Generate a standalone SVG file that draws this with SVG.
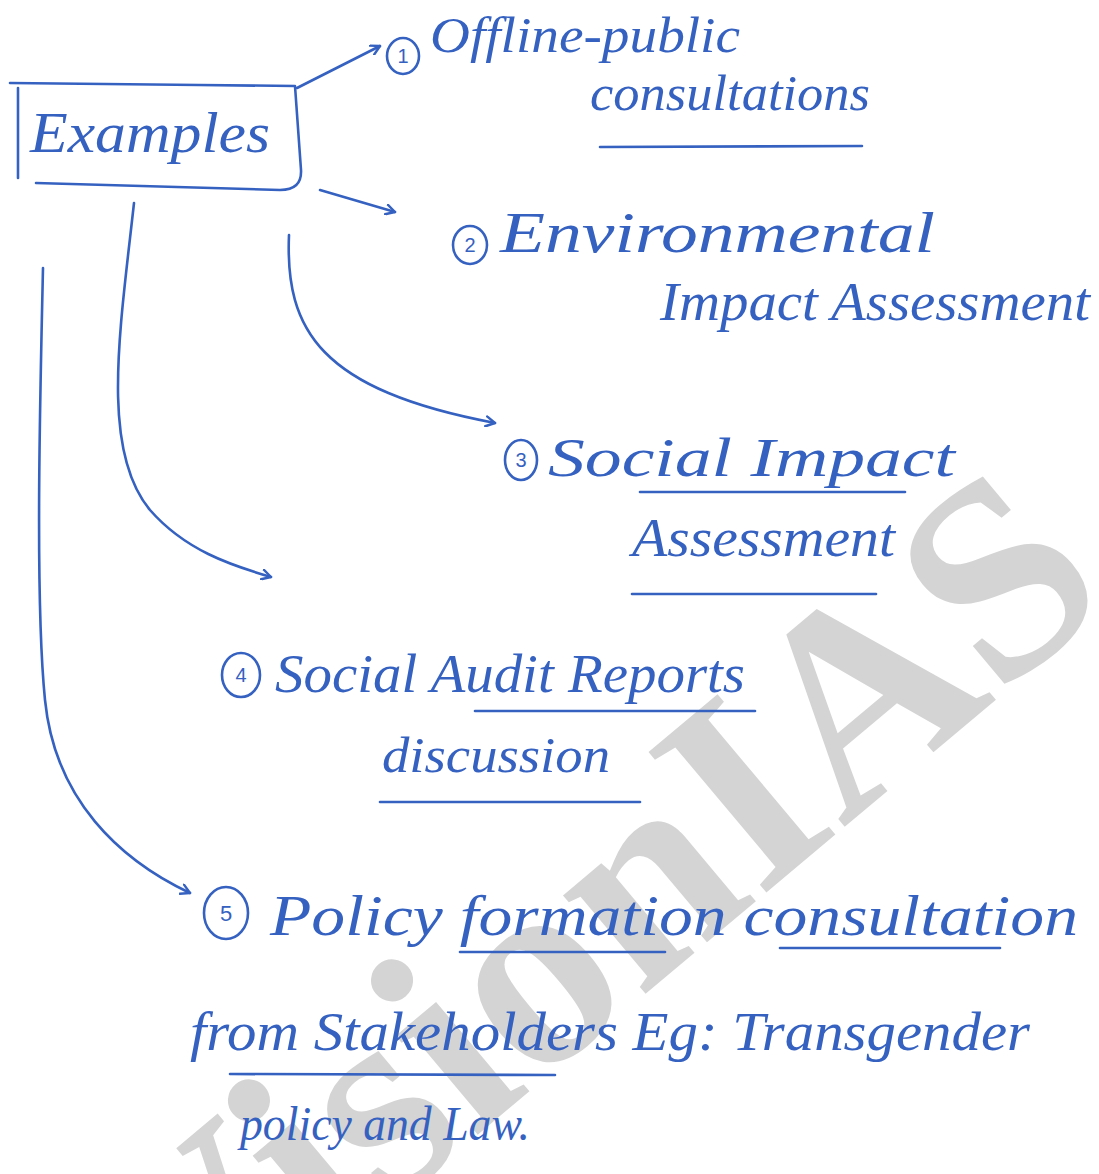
<svg xmlns="http://www.w3.org/2000/svg" width="1099" height="1174" viewBox="0 0 1099 1174">
<style>
.ink{fill:none;stroke:#3561c1;stroke-width:2.6;stroke-linecap:round;stroke-linejoin:round}
.hw{font-family:"Liberation Serif",serif;font-style:italic;fill:#3561c1}
.num{font-family:"Liberation Sans",sans-serif;fill:#3561c1;text-anchor:middle}
.wm{font-family:"Liberation Serif",serif;font-weight:bold;fill:#d4d4d4}
</style>
<defs>
<marker id="ah" viewBox="0 0 12 12" refX="10" refY="6" markerWidth="12" markerHeight="12" markerUnits="userSpaceOnUse" orient="auto">
<path d="M1,1 L10,6 L1,11" fill="none" stroke="#3561c1" stroke-width="2.4" stroke-linecap="round" stroke-linejoin="round"/>
</marker>
</defs>
<rect width="1099" height="1174" fill="#ffffff"/>
<text class="wm" font-size="280" transform="translate(183,1382) rotate(-40)">VisionIAS</text>

<g id="examples">
<path class="ink" d="M10,83 C100,84 200,85 295,86 L301,170 Q302,190 280,190 L36,183"/>
<path class="ink" d="M18,88 L18,178"/>
<text class="hw" x="30" y="152" font-size="58" textLength="240" lengthAdjust="spacingAndGlyphs">Examples</text>
</g>

<g id="connectors">
<path class="ink" d="M297,88 L380,46" marker-end="url(#ah)"/>
<path class="ink" d="M320,190 L395,212" marker-end="url(#ah)"/>
<path class="ink" d="M289,235 C285,330 320,390 495,423" marker-end="url(#ah)"/>
<path class="ink" d="M134,203 C120,330 100,450 150,510 C185,550 230,565 271,577" marker-end="url(#ah)"/>
<path class="ink" d="M43,268 C40,400 35,600 45,700 C55,800 120,860 190,893" marker-end="url(#ah)"/>
</g>

<g id="item1">
<ellipse class="ink" cx="403" cy="56" rx="16" ry="18"/>
<text class="num" x="403" y="63" font-size="20">1</text>
<text class="hw" x="430" y="52" font-size="50" textLength="310" lengthAdjust="spacingAndGlyphs">Offline-public</text>
<text class="hw" x="590" y="110" font-size="50" textLength="280" lengthAdjust="spacingAndGlyphs">consultations</text>
<path class="ink" d="M600,147 L862,146"/>
</g>

<g id="item2">
<ellipse class="ink" cx="470" cy="245" rx="17" ry="19"/>
<text class="num" x="470" y="252" font-size="20">2</text>
<text class="hw" x="500" y="252" font-size="56" textLength="435" lengthAdjust="spacingAndGlyphs">Environmental</text>
<text class="hw" x="660" y="320" font-size="54" textLength="430" lengthAdjust="spacingAndGlyphs">Impact Assessment</text>
</g>

<g id="item3">
<ellipse class="ink" cx="521" cy="460" rx="16" ry="20"/>
<text class="num" x="521" y="467" font-size="20">3</text>
<text class="hw" x="548" y="476" font-size="54" textLength="407" lengthAdjust="spacingAndGlyphs">Social Impact</text>
<path class="ink" d="M640,492 L905,492"/>
<text class="hw" x="632" y="556" font-size="54" textLength="263" lengthAdjust="spacingAndGlyphs">Assessment</text>
<path class="ink" d="M632,594 L876,594"/>
</g>

<g id="item4">
<ellipse class="ink" cx="241" cy="675" rx="19" ry="22"/>
<text class="num" x="241" y="682" font-size="20">4</text>
<text class="hw" x="275" y="692" font-size="54" textLength="470" lengthAdjust="spacingAndGlyphs">Social Audit Reports</text>
<path class="ink" d="M475,711 L755,711"/>
<text class="hw" x="382" y="772" font-size="50" textLength="228" lengthAdjust="spacingAndGlyphs">discussion</text>
<path class="ink" d="M380,802 L640,802"/>
</g>

<g id="item5">
<ellipse class="ink" cx="226" cy="913" rx="22" ry="26"/>
<text class="num" x="226" y="921" font-size="22">5</text>
<text class="hw" x="270" y="935" font-size="56" textLength="808" lengthAdjust="spacingAndGlyphs">Policy formation consultation</text>
<path class="ink" d="M460,952 L665,952"/>
<path class="ink" d="M780,948 L1000,948"/>
<text class="hw" x="190" y="1050" font-size="54" textLength="840" lengthAdjust="spacingAndGlyphs">from Stakeholders Eg: Transgender</text>
<path class="ink" d="M230,1074 L555,1075"/>
<text class="hw" x="240" y="1140" font-size="48" textLength="290" lengthAdjust="spacingAndGlyphs">policy and Law.</text>
</g>
</svg>
